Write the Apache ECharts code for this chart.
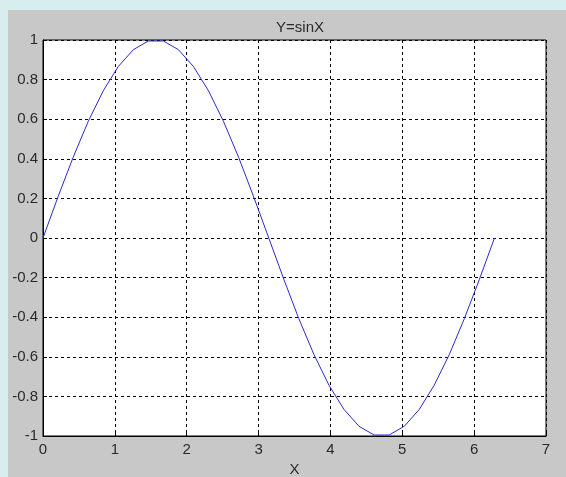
<!DOCTYPE html>
<html>
<head>
<meta charset="utf-8">
<style>
html,body{margin:0;padding:0;background:#d8eeee;}
#c{width:566px;height:477px;}
</style>
<script src="https://cdn.jsdelivr.net/npm/echarts@6/dist/echarts.min.js"></script>
</head>
<body>
<div id="c"></div>
<script>
var titleText = 'Y=sinX';
var xName = 'X';
var xValues = [0, 0.209, 0.419, 0.628, 0.838, 1.047, 1.257, 1.466, 1.676, 1.885, 2.094, 2.304, 2.513, 2.723, 2.932, 3.142,
  3.351, 3.560, 3.770, 3.979, 4.189, 4.398, 4.608, 4.817, 5.027, 5.236, 5.445, 5.655, 5.864, 6.074, 6.283];
var yValues = [0, 0.208, 0.407, 0.588, 0.743, 0.866, 0.951, 0.995, 0.995, 0.951, 0.866, 0.743, 0.588, 0.407, 0.208, 0,
  -0.208, -0.407, -0.588, -0.743, -0.866, -0.951, -0.995, -0.995, -0.951, -0.866, -0.743, -0.588, -0.407, -0.208, 0];
var xTicks = [0, 7, 1];
var yTicks = [-1, 1, 0.2];

var pts = xValues.map(function (x, i) { return [x, yValues[i]]; });
var chart = echarts.init(document.getElementById('c'), null, {renderer: 'canvas'});
var font = 'Liberation Sans, Arial, sans-serif';
var txt = '#2a2a2a';
chart.setOption({
  backgroundColor: '#d8eeee',
  animation: false,
  graphic: [{
    type: 'rect', z: -10, silent: true,
    shape: {x: 8, y: 10, width: 558, height: 467},
    style: {fill: '#c8c8c8'}
  }],
  title: {
    text: titleText, left: 295, top: 15, textAlign: 'center',
    textStyle: {fontFamily: font, fontSize: 15, fontWeight: 'normal', color: txt}
  },
  grid: {
    left: 43, top: 40, width: 503, height: 396, outerBoundsMode: 'none', containLabel: false,
    show: true, backgroundColor: '#fff', borderColor: '#000', borderWidth: 1
  },
  xAxis: {
    type: 'value', min: xTicks[0], max: xTicks[1], interval: xTicks[2],
    name: xName, nameLocation: 'middle', nameGap: 20,
    nameTextStyle: {fontFamily: font, fontSize: 15, color: txt},
    axisLine: {show: true, onZero: false, lineStyle: {color: '#000', width: 1}},
    axisTick: {show: true, inside: true, length: 4, lineStyle: {color: '#000'}},
    axisLabel: {fontFamily: font, fontSize: 15, color: txt, margin: 6},
    splitLine: {show: true, lineStyle: {color: '#000', width: 1, type: [3, 3]}}
  },
  yAxis: {
    type: 'value', min: yTicks[0], max: yTicks[1], interval: yTicks[2],
    axisLine: {show: true, onZero: false, lineStyle: {color: '#000', width: 1}},
    axisTick: {show: true, inside: true, length: 4, lineStyle: {color: '#000'}},
    axisLabel: {fontFamily: font, fontSize: 15, color: txt, margin: 5,
      formatter: function (v) { return String(Math.round(v * 10) / 10); }},
    splitLine: {show: true, lineStyle: {color: '#000', width: 1, type: [3, 3]}}
  },
  series: [{
    type: 'line', data: pts, showSymbol: false, smooth: false,
    lineStyle: {color: '#2a2ad0', width: 1}
  }]
});
</script>
</body>
</html>
